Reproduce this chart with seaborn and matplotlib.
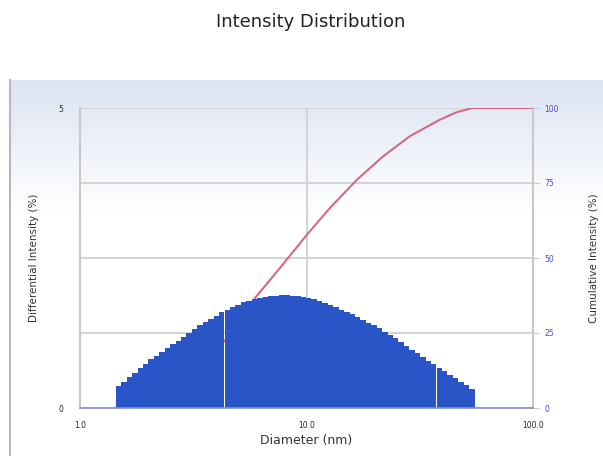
import numpy as np
import pandas as pd
import matplotlib
matplotlib.use("Agg")
import matplotlib.pyplot as plt
import seaborn as sns

# ---- data ----
diameter_nm = [1.479, 1.563, 1.652, 1.746, 1.845, 1.950, 2.061, 2.178, 2.301, 2.432,
               2.570, 2.716, 2.871, 3.034, 3.206, 3.388, 3.581, 3.784, 3.999, 4.227,
               4.467, 4.721, 4.989, 5.272, 5.572, 5.888, 6.223, 6.577, 6.950, 7.345,
               7.762, 8.204, 8.670, 9.162, 9.683, 10.23, 10.81, 11.43, 12.08, 12.76,
               13.49, 14.26, 15.07, 15.92, 16.83, 17.78, 18.79, 19.86, 20.99, 22.18,
               23.44, 24.77, 26.18, 27.67, 29.24, 30.90, 32.66, 34.51, 36.48, 38.55,
               40.74, 43.05, 45.50, 48.08, 50.82, 53.70]
diff_intensity = [0.36, 0.44, 0.51, 0.59, 0.66, 0.74, 0.81, 0.87, 0.94, 1.00,
                  1.06, 1.12, 1.19, 1.25, 1.32, 1.38, 1.43, 1.49, 1.54, 1.60,
                  1.64, 1.68, 1.72, 1.76, 1.79, 1.81, 1.83, 1.85, 1.86, 1.87,
                  1.88, 1.88, 1.87, 1.86, 1.85, 1.83, 1.81, 1.78, 1.75, 1.72,
                  1.68, 1.64, 1.60, 1.56, 1.51, 1.47, 1.42, 1.38, 1.33, 1.27,
                  1.22, 1.16, 1.10, 1.04, 0.97, 0.91, 0.85, 0.79, 0.73, 0.67,
                  0.61, 0.55, 0.50, 0.44, 0.38, 0.32]
cum_diameter_nm = [1.44, 2.0, 3.0, 4.0, 5.0, 5.93, 7.64, 10.05, 12.7, 16.7,
                   21.8, 28.6, 38.8, 46.0, 54.0, 100.0]
cum_intensity = [0, 3, 10, 19, 28, 36.7, 46.7, 57.8, 66.7, 76.1,
                 83.9, 90.6, 96.1, 98.6, 100, 100]
x_ticks = [1.0, 10.0, 100.0]
x_tick_labels = ["1.0", "10.0", "100.0"]
left_ticks = [0, 5]
right_ticks = [0, 25, 50, 75, 100]

title = "Intensity Distribution"
x_label = "Diameter (nm)"
left_label = "Differential Intensity (%)"
right_label = "Cumulative Intensity (%)"

bars_df = pd.DataFrame({"d": diameter_nm, "v": diff_intensity})
cum_df = pd.DataFrame({"d": cum_diameter_nm, "c": cum_intensity})

sns.set_style("white")
plt.rcParams["font.family"] = ["DejaVu Sans"]

fig = plt.figure(figsize=(6.03, 4.58), dpi=100)

# panel background with a light blue gradient at the top
bg = fig.add_axes([10 / 603, 3 / 458, 593 / 603, 375 / 458], zorder=-10)
grad = np.linspace(0, 1, 256)
cols = np.ones((256, 1, 3))
top_col = np.array([0.86, 0.89, 0.95])
for i, g in enumerate(grad):
    t = min(1.0, g / 0.35)
    cols[i, 0, :] = top_col * (1 - t) + np.array([1, 1, 1]) * t
bg.imshow(cols, aspect="auto", extent=[0, 1, 0, 1], origin="upper")
bg.set_xlim(0, 1)
bg.set_ylim(0, 1)
bg.set_xticks([])
bg.set_yticks([])
for s in ["top", "right", "bottom"]:
    bg.spines[s].set_visible(False)
bg.spines["left"].set_color("#b8b8b8")
bg.spines["left"].set_linewidth(1.5)

ax = fig.add_axes([80 / 603, 1 - 408 / 458, 453 / 603, 300 / 458])
ax2 = ax.twinx()
ax.set_zorder(ax2.get_zorder() + 1)
ax.patch.set_visible(False)
ax2.patch.set_facecolor("none")

ax.set_xscale("log")
sns.barplot(data=bars_df, x="d", y="v", native_scale=True, ax=ax,
            color="#2a55c7", saturation=1, width=1.0, errorbar=None,
            linewidth=0)

sns.lineplot(data=cum_df, x="d", y="c", ax=ax2, color="#d46a82", linewidth=1.5)

ax.set_xlim(1.0, 100.0)
ax.set_ylim(0, 5)
ax2.set_ylim(0, 100)
ax2.set_xlim(1.0, 100.0)

# grid on the background axis
ax2.set_yticks(right_ticks)
ax2.set_yticklabels([str(t) for t in right_ticks], color="#4a4ad8", fontsize=5.5)
ax2.grid(True, axis="y", color="#d4d4d4", linewidth=1.5)
ax2.axvline(10.0, color="#d4d4d4", linewidth=1.5, zorder=0)
ax2.tick_params(axis="y", length=4, width=0.8, color="#c8c8c8", pad=4)

ax.set_yticks(left_ticks)
ax.set_yticklabels([str(t) for t in left_ticks], fontsize=5.5)
ax.tick_params(axis="y", length=0, pad=12)
ax.set_xticks(x_ticks)
ax.set_xticklabels(x_tick_labels, fontsize=5.5)
ax.xaxis.set_minor_locator(matplotlib.ticker.NullLocator())
ax.tick_params(axis="x", length=0, pad=9)

for a in (ax, ax2):
    for s in ["top", "right", "left", "bottom"]:
        a.spines[s].set_visible(False)
ax2.spines["left"].set_visible(True)
ax2.spines["left"].set_color("#c8c8c8")
ax2.spines["left"].set_linewidth(1.5)
ax2.spines["right"].set_visible(True)
ax2.spines["right"].set_color("#c8c8c8")
ax2.spines["right"].set_linewidth(1.5)
ax.spines["bottom"].set_visible(True)
ax.spines["bottom"].set_color("#7f93c8")
ax.spines["bottom"].set_linewidth(1.2)

ax.set_xlabel(x_label, fontsize=9, color="#333333", labelpad=3)
ax.set_ylabel(left_label, fontsize=7.5, color="#333333", labelpad=14)
ax2.set_ylabel(right_label, fontsize=7.5, color="#333333", labelpad=22)
ax2.set_xlabel("")

fig.text(0.515, 0.952, title, ha="center", va="center", fontsize=13,
         color="#222222")

fig.savefig("out.png", dpi=100)
